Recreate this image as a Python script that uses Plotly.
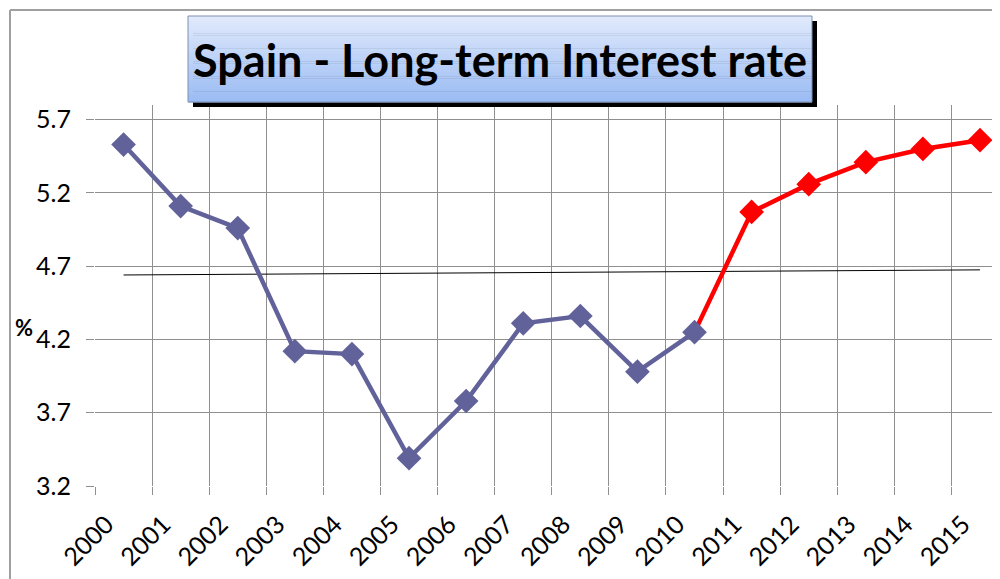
import plotly.graph_objects as go

years = ["2000", "2001", "2002", "2003", "2004", "2005", "2006", "2007",
         "2008", "2009", "2010", "2011", "2012", "2013", "2014", "2015"]
hist_years = years[:11]
hist_values = [5.53, 5.11, 4.96, 4.12, 4.10, 3.39, 3.78, 4.31, 4.36, 3.98, 4.25]
fc_years = years[10:]
fc_values = [4.25, 5.07, 5.26, 5.41, 5.50, 5.56]
trend_years = ["2000", "2015"]
trend_values = [4.64, 4.675]
y_ticks = [3.2, 3.7, 4.2, 4.7, 5.2, 5.7]

idx = {y: i for i, y in enumerate(years)}
font = "Lato, 'Open Sans', sans-serif"
blue = "#62629b"
grid = "#8f8f8f"

fig = go.Figure()
fig.add_trace(go.Scatter(x=[idx[y] for y in trend_years], y=trend_values, mode="lines",
                         line=dict(color="black", width=1), showlegend=False, hoverinfo="skip"))
fig.add_trace(go.Scatter(x=[idx[y] for y in fc_years], y=fc_values, mode="lines+markers",
                         line=dict(color="#ff0000", width=4.5),
                         marker=dict(symbol="diamond", size=[0] + [19] * (len(fc_years) - 1),
                                     color="#ff0000", opacity=1, line=dict(width=0)),
                         showlegend=False))
fig.add_trace(go.Scatter(x=[idx[y] for y in hist_years], y=hist_values, mode="lines+markers",
                         line=dict(color=blue, width=4.5),
                         marker=dict(symbol="diamond", size=19, color=blue),
                         showlegend=False))

# page offset (body margin) compensation: plot area in page coords 95..1000 x 105..486
W, H = 905.0, 381.0
def px(x):
    return (x - 95) / W
def py(y):
    return (486 - y) / H

x0, x1, y0, y1 = 188, 812, 16, 102
shapes = []
shapes.append(dict(type="line", xref="paper", yref="paper", x0=px(10), x1=px(10), y0=py(10), y1=py(600),
                   line=dict(color="#a0a0a0", width=2)))
shapes.append(dict(type="line", xref="paper", yref="paper", x0=px(10), x1=px(1010), y0=py(10), y1=py(10),
                   line=dict(color="#a0a0a0", width=2)))
shapes.append(dict(type="rect", xref="paper", yref="paper", x0=px(x0 + 5), x1=px(x1 + 5),
                   y0=py(y1 + 5), y1=py(y0 + 5), fillcolor="black", line=dict(width=0)))
n = 40
c_top = (224, 234, 252)
c_bot = (156, 188, 244)
for i in range(n):
    t = i / (n - 1)
    c = tuple(int(c_top[k] + (c_bot[k] - c_top[k]) * t) for k in range(3))
    ya = y0 + (y1 - y0) * i / n
    yb = y0 + (y1 - y0) * (i + 1) / n
    shapes.append(dict(type="rect", xref="paper", yref="paper", x0=px(x0), x1=px(x1),
                       y0=py(yb + 0.5), y1=py(ya), fillcolor="rgb(%d,%d,%d)" % c, line=dict(width=0)))
shapes.append(dict(type="rect", xref="paper", yref="paper", x0=px(x0), x1=px(x1),
                   y0=py(y1), y1=py(y0), fillcolor="rgba(0,0,0,0)", line=dict(color="#7f8fb0", width=1)))

fig.update_layout(
    width=1000, height=579,
    margin=dict(l=87, r=8, t=97, b=101),
    paper_bgcolor="white", plot_bgcolor="white",
    shapes=shapes,
    annotations=[
        dict(text="<b>Spain - Long-term Interest rate</b>", xref="paper", yref="paper",
             x=px((x0 + x1) / 2), y=py((y0 + y1) / 2 + 1), xanchor="center", yanchor="middle",
             showarrow=False, font=dict(family=font, size=45, color="black")),
        dict(text="<b>%</b>", xref="paper", yref="paper", x=px(24), y=py(327),
             xanchor="center", yanchor="middle", showarrow=False,
             font=dict(family=font, size=22, color="black")),
    ],
    xaxis=dict(range=[-0.5, 15.35], tickvals=[i - 0.3 for i in range(len(years))], ticktext=years,
               tickangle=-45, showgrid=False, zeroline=False,
               ticks="", tickfont=dict(family=font, size=25, color="black"),
               ticklabelstandoff=18,
               minor=dict(tick0=-0.5, dtick=1, showgrid=True, gridcolor=grid, gridwidth=1,
                          ticks="outside", ticklen=8, tickcolor=grid),
               showline=False),
    yaxis=dict(range=[3.2, 5.8], tickvals=y_ticks, ticktext=[f"{v:.1f}" for v in y_ticks],
               showgrid=True, gridcolor=grid, gridwidth=1, zeroline=False,
               ticks="outside", ticklen=8, tickcolor=grid,
               tickfont=dict(family=font, size=25, color="black"), ticklabelstandoff=10),
)
fig.write_html("out.html")
